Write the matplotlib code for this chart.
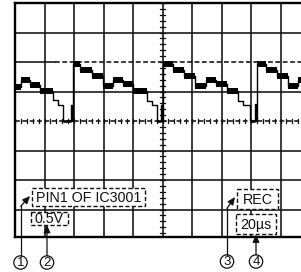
import matplotlib
matplotlib.use("Agg")
import matplotlib.pyplot as plt
from matplotlib.patches import Rectangle, Circle

plt.rcParams['font.family'] = ['Liberation Sans', 'DejaVu Sans']

# ---- data ----
US_PER_DIV = 20.0
V_PER_DIV = 0.5
# step edges of the trace (µs) and the level (V) between consecutive edges
edges_us = [0, 4.07, 10.17, 16.95, 25.76, 29.15, 32.54, 37.97, 38.64, 39.32,
            44.07, 52.2, 59.66, 66.44, 73.22, 80.0, 89.49, 92.88, 96.27, 99.3, 99.8, 100.34,
            107.12, 114.58, 122.03, 129.49, 136.27, 143.73, 151.19, 154.58, 159.32, 163.05, 163.53, 164.07,
            170.17, 177.63, 185.08, 191.86, 200.0]
levels_v = [0.576, 0.695, 0.61, 0.508, 0.356, 0.271, 0.0, 0.271, 0.0,
            0.958, 0.856, 0.763, 0.593, 0.703, 0.619, 0.508, 0.331, 0.263, 0.0, 0.27, 0.0,
            0.958, 0.856, 0.771, 0.585, 0.703, 0.619, 0.508, 0.331, 0.263, 0.0, 0.288, 0.0,
            0.958, 0.856, 0.763, 0.585, 0.703]

labels = ["PIN1 OF IC3001", "0.5V", "REC", "20µs"]
numbers = ["1", "2", "3", "4"]

# ---- figure ----
W, H = 301, 272
fig = plt.figure(figsize=(W / 100, H / 100), dpi=100)
fig.patch.set_facecolor('white')

top_px, bot_px, left_px, div_px = 3, 237, 15, 29.5
ax = fig.add_axes([left_px / W, (H - bot_px) / H, 10 * div_px / W, (bot_px - top_px) / H])
ymin = -(bot_px - top_px - 4 * div_px) / div_px
ax.set_xlim(0, 10)
ax.set_ylim(ymin, 4)
ax.set_xticks([]); ax.set_yticks([])
for s in ax.spines.values():
    s.set_linewidth(1.7)
    s.set_color('#000')

gc = '#111'
glw = 1.15
for i in range(1, 10):
    if i != 5:
        ax.axvline(i, color=gc, lw=glw, zorder=1)
for j in range(-3, 4):
    if j in (0, 2):
        continue
    ax.axhline(j, color=gc, lw=glw, zorder=1)

# +2 div line: solid at left, dashed further right
ax.plot([0, 1.36], [2, 2], color=gc, lw=glw, zorder=1)
ax.plot([1.36, 10], [2, 2], color=gc, lw=glw, dashes=(3, 1.6), zorder=1)

# centre axes with minor ticks
ax.axvline(5, color=gc, lw=glw, zorder=1)
ax.plot([0, 10], [0, 0], color=gc, lw=glw, dashes=(3, 1.6), zorder=1)
k = 0
while k * 0.2 < 10.01:
    xv = k * 0.2
    ax.plot([xv, xv], [-0.06, 0.06], color=gc, lw=0.9, zorder=1)
    k += 1
k = -20
while k * 0.2 < 4.01:
    yv = k * 0.2
    if yv > ymin:
        ax.plot([4.91, 5.09], [yv, yv], color=gc, lw=0.9, zorder=1)
    k += 1

# trace
xs, ys = [], []
for i, lv in enumerate(levels_v):
    x0 = edges_us[i] / US_PER_DIV
    x1 = edges_us[i + 1] / US_PER_DIV
    y = lv / V_PER_DIV
    xs += [x0, x1]
    ys += [y, y]
ax.plot(xs, ys, color='black', lw=1.0, zorder=3)
for i, lv in enumerate(levels_v):
    x0 = edges_us[i] / US_PER_DIV
    x1 = edges_us[i + 1] / US_PER_DIV
    y = lv / V_PER_DIV
    if lv > 0.4:
        ax.plot([x0, x1], [y, y], color='black', lw=4.3, solid_capstyle='butt', zorder=3)
    elif lv == 0.0 and (x1 - x0) > 0.1:
        ax.plot([x0, x1], [y, y], color='black', lw=1.8, solid_capstyle='butt', zorder=3)

# ---- annotation overlay in pixel coordinates ----
ov = fig.add_axes([0, 0, 1, 1], zorder=5)
ov.set_xlim(0, W); ov.set_ylim(H, 0)
ov.axis('off')
ov.patch.set_alpha(0)

boxes = [(32, 188, 113, 18), (31, 212, 37, 12.5), (237, 189, 41, 20), (236, 214, 40, 20)]
for (bx, by, bw, bh), lab in zip(boxes, labels):
    ov.add_patch(Rectangle((bx, by), bw, bh, fc='white', ec='#111', lw=1.0,
                           ls=(0, (3, 1.6)), zorder=5))
    ov.text(bx + bw / 2, by + bh / 2 + 0.5, lab, ha='center', va='center',
            fontsize=10.3, color='#111', zorder=6)

circ = [(20.5, 262.5), (47, 262.5), (227, 261.5), (256, 261.5)]
for (cx, cy), n in zip(circ, numbers):
    ov.add_patch(Circle((cx, cy), 6.7, fc='white', ec='#111', lw=0.9, zorder=5))
    ov.text(cx, cy + 0.5, n, ha='center', va='center', fontsize=9.5, color='#111', zorder=6)

ap = dict(arrowstyle='-|>,head_length=0.45,head_width=0.2', color='#111', lw=0.9,
          shrinkA=0, shrinkB=0)
# arrow 1
ov.plot([20.7, 20.7], [256, 206], color='#111', lw=0.9, zorder=5)
ov.annotate('', xy=(30, 196), xytext=(20.7, 206.3), arrowprops=ap, zorder=6)
# arrow 2
ov.annotate('', xy=(47, 225), xytext=(47, 256), arrowprops=ap, zorder=6)
# arrow 3
ov.plot([227, 227], [255, 208], color='#111', lw=0.9, zorder=5)
ov.annotate('', xy=(235, 197), xytext=(227, 208.3), arrowprops=ap, zorder=6)
# arrow 4
ov.annotate('', xy=(256, 234.5), xytext=(256, 255), arrowprops=ap, zorder=6)

fig.savefig('out.png', dpi=100)
